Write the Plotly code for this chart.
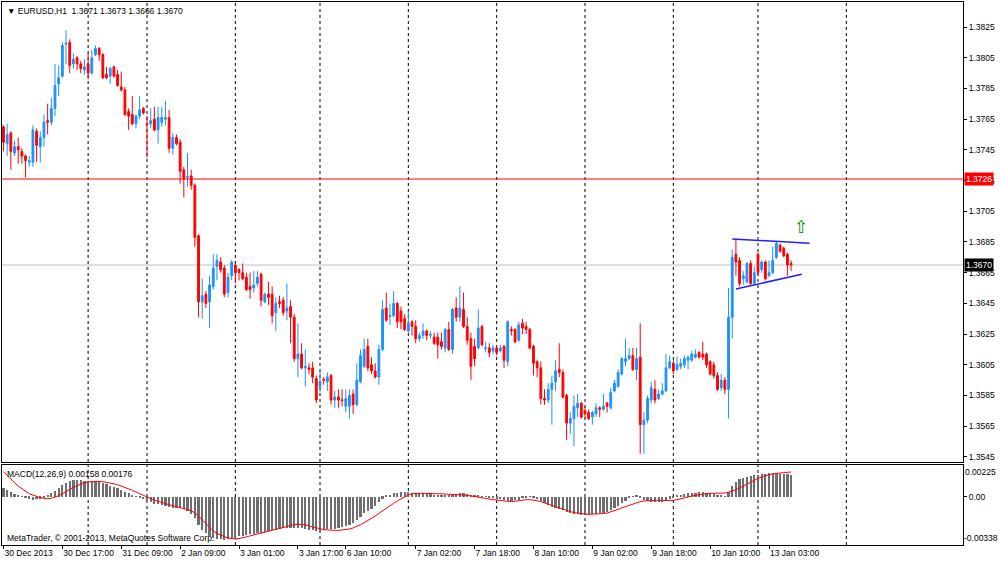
import plotly.graph_objects as go

# EURUSD H1 candles, bar index 0 = 30 Dec 2013 01:00
opens = [
    1.3760, 1.3749, 1.3756, 1.3743, 1.3747, 1.3744, 1.3741, 1.3737, 1.3737, 1.3757,
    1.3747, 1.3753, 1.3764, 1.3763, 1.3772, 1.3788, 1.3793, 1.38139, 1.3815, 1.3801,
    1.3805, 1.3801, 1.3797, 1.3801, 1.3795, 1.3807, 1.3811, 1.3807, 1.3794, 1.3793,
    1.3799, 1.3794, 1.3786, 1.3784, 1.3770, 1.3768, 1.3762, 1.3767, 1.3772, 1.37621,
    1.3762, 1.3765, 1.3758, 1.3763, 1.3765, 1.3766, 1.3746, 1.3753, 1.3750, 1.3732,
    1.37271, 1.3728, 1.3722, 1.3689, 1.3646, 1.3651, 1.3646, 1.3656, 1.3669, 1.3672,
    1.3668, 1.3652, 1.3663, 1.3670, 1.3667, 1.3665, 1.3662, 1.3656, 1.3655, 1.3658,
    1.3664, 1.3646, 1.3651, 1.3651, 1.3639, 1.3646, 1.3647, 1.3640, 1.3643, 1.3636,
    1.3609, 1.3612, 1.3603, 1.3603, 1.3603, 1.3596, 1.3591, 1.35955, 1.3594, 1.3598,
    1.3582, 1.3584, 1.35822, 1.3578, 1.3578, 1.3586, 1.3579, 1.3594, 1.3604, 1.3617,
    1.3605, 1.3601, 1.3597, 1.3615, 1.3642, 1.36365, 1.3637, 1.3645, 1.3640, 1.3635,
    1.3627, 1.3633, 1.3630, 1.3622, 1.3624, 1.3627, 1.36243, 1.3623, 1.3623, 1.3620,
    1.3616, 1.3628, 1.3615, 1.3642, 1.3636, 1.3641, 1.3630, 1.3622, 1.3617, 1.3616,
    1.3630, 1.36155, 1.3616, 1.3614, 1.3616, 1.3614, 1.3617, 1.3607, 1.3628, 1.3628,
    1.3621, 1.3632, 1.3630, 1.3628, 1.3617, 1.3607, 1.3603, 1.3583, 1.3582, 1.3589,
    1.3594, 1.3602, 1.3600, 1.3585, 1.3567, 1.3570, 1.3577, 1.3580, 1.3575, 1.3574,
    1.3571, 1.3573, 1.3577, 1.3576, 1.3580, 1.3577, 1.3588, 1.3591, 1.3599, 1.3607,
    1.3609, 1.3611, 1.3602, 1.3610, 1.3566, 1.3569, 1.3582, 1.3589, 1.3583, 1.3586,
    1.3588, 1.3603, 1.3606, 1.3602, 1.3604, 1.3605, 1.3608, 1.3608, 1.3610, 1.3613,
    1.3612, 1.3612, 1.3607, 1.3605, 1.3598, 1.3590, 1.3595, 1.3589, 1.3636, 1.3677,
    1.3673, 1.3661, 1.3659, 1.3671, 1.3658, 1.3677, 1.3667, 1.3672, 1.3663, 1.3665,
    1.3675, 1.3683, 1.3681, 1.3677, 1.3671,
]
highs = [
    1.3761, 1.3762, 1.3757, 1.3751, 1.3753, 1.3746, 1.3742, 1.3741, 1.3761, 1.3759,
    1.3757, 1.3768, 1.3775, 1.3779, 1.3801, 1.3800, 1.3815, 1.3823, 1.3817, 1.3808,
    1.3806, 1.3803, 1.3804, 1.3808, 1.3810, 1.3813, 1.3812, 1.3808, 1.3799, 1.3799,
    1.3800, 1.3797, 1.3796, 1.3786, 1.3772, 1.3780, 1.3768, 1.3780, 1.3773, 1.3767,
    1.3772, 1.3773, 1.3773, 1.3773, 1.3777, 1.3771, 1.3756, 1.3755, 1.3752, 1.3734,
    1.3743, 1.3732, 1.3723, 1.3690, 1.3661, 1.3653, 1.3663, 1.3677, 1.3677, 1.3675,
    1.3670, 1.3665, 1.3673, 1.3671, 1.3668, 1.3671, 1.3665, 1.3665, 1.3666, 1.3666,
    1.3665, 1.3652, 1.3659, 1.3656, 1.3649, 1.3650, 1.3649, 1.3658, 1.3647, 1.3638,
    1.3632, 1.3619, 1.3615, 1.3606, 1.3607, 1.3598, 1.3601, 1.3597, 1.3600, 1.3599,
    1.3588, 1.3589, 1.3589, 1.3589, 1.3589, 1.3589, 1.3606, 1.3615, 1.3622, 1.3622,
    1.3610, 1.3606, 1.3618, 1.3647, 1.3652, 1.3645, 1.3653, 1.3646, 1.3643, 1.3638,
    1.3640, 1.3634, 1.3634, 1.3626, 1.3632, 1.3628, 1.3627, 1.3626, 1.3626, 1.3626,
    1.3629, 1.3633, 1.3642, 1.3649, 1.3656, 1.3652, 1.3636, 1.3626, 1.3622, 1.3641,
    1.3631, 1.3620, 1.3619, 1.3618, 1.3617, 1.3618, 1.3618, 1.3634, 1.3630, 1.3629,
    1.3633, 1.3635, 1.3633, 1.3629, 1.3618, 1.3608, 1.3607, 1.3589, 1.3593, 1.3598,
    1.3608, 1.3619, 1.3602, 1.3586, 1.3574, 1.3585, 1.3586, 1.3581, 1.3578, 1.3576,
    1.3575, 1.3580, 1.3578, 1.3586, 1.3581, 1.3590, 1.3595, 1.3602, 1.3610, 1.3622,
    1.3616, 1.3616, 1.3616, 1.3632, 1.3574, 1.3585, 1.3594, 1.3595, 1.3589, 1.3593,
    1.3612, 1.3611, 1.3608, 1.3610, 1.3609, 1.3611, 1.3611, 1.3614, 1.3615, 1.3614,
    1.3620, 1.3613, 1.3608, 1.3607, 1.3600, 1.3599, 1.3597, 1.3655, 1.3680, 1.3687,
    1.3675, 1.3666, 1.3672, 1.3673, 1.3669, 1.3678, 1.3673, 1.3673, 1.3673, 1.3682,
    1.3685, 1.3684, 1.3682, 1.3678, 1.3673,
]
lows = [
    1.3744, 1.3741, 1.3732, 1.3741, 1.3736, 1.3736, 1.3727, 1.3734, 1.3734, 1.3737,
    1.3737, 1.3747, 1.3755, 1.3761, 1.3767, 1.3780, 1.3792, 1.3801, 1.3795, 1.3798,
    1.3797, 1.3795, 1.3794, 1.3791, 1.3794, 1.3806, 1.3803, 1.3791, 1.3791, 1.3788,
    1.3792, 1.3786, 1.3783, 1.3767, 1.3758, 1.3761, 1.3759, 1.3765, 1.3768, 1.3740,
    1.3759, 1.3757, 1.3749, 1.3760, 1.3761, 1.3743, 1.3742, 1.3748, 1.3723, 1.3714,
    1.3721, 1.3719, 1.3682, 1.3636, 1.3635, 1.3642, 1.3629, 1.3654, 1.3660, 1.3665,
    1.3649, 1.3649, 1.3660, 1.3658, 1.3660, 1.3660, 1.3653, 1.3648, 1.3652, 1.3656,
    1.3643, 1.3645, 1.3644, 1.3632, 1.3627, 1.3642, 1.3637, 1.3634, 1.3619, 1.3607,
    1.3597, 1.3602, 1.3591, 1.3599, 1.3593, 1.3580, 1.3587, 1.3592, 1.3588, 1.3579,
    1.3577, 1.3577, 1.3578, 1.3574, 1.3570, 1.3573, 1.3578, 1.3593, 1.3603, 1.3601,
    1.3599, 1.3596, 1.3592, 1.3614, 1.3633, 1.3631, 1.3636, 1.3629, 1.3628, 1.3627,
    1.3626, 1.3624, 1.3619, 1.3620, 1.3622, 1.3621, 1.3622, 1.3618, 1.3609, 1.3615,
    1.3613, 1.3614, 1.3612, 1.3633, 1.3633, 1.3629, 1.3618, 1.3595, 1.3604, 1.3615,
    1.3617, 1.3613, 1.3610, 1.3612, 1.3611, 1.3613, 1.3603, 1.3604, 1.3624, 1.3619,
    1.3620, 1.3625, 1.3625, 1.3615, 1.3598, 1.3597, 1.3579, 1.3579, 1.3580, 1.3566,
    1.3588, 1.3597, 1.3583, 1.3556, 1.3560, 1.3552, 1.3571, 1.3570, 1.3570, 1.3569,
    1.3566, 1.3571, 1.3571, 1.3575, 1.3574, 1.3576, 1.3587, 1.3590, 1.3598, 1.3604,
    1.3608, 1.3601, 1.3595, 1.3547, 1.3547, 1.3567, 1.3580, 1.3580, 1.3582, 1.3585,
    1.3587, 1.3602, 1.3599, 1.3601, 1.3602, 1.3603, 1.3602, 1.3607, 1.3609, 1.3609,
    1.3608, 1.3603, 1.3598, 1.3596, 1.3588, 1.3588, 1.3586, 1.3570, 1.3622, 1.3663,
    1.3656, 1.3657, 1.3658, 1.3657, 1.3657, 1.3663, 1.3665, 1.3660, 1.3662, 1.3664,
    1.3674, 1.3678, 1.3675, 1.3663, 1.3666,
]
closes = [
    1.3750, 1.3755, 1.3744, 1.3747, 1.3745, 1.3741, 1.3738, 1.3738, 1.3758, 1.3748,
    1.3753, 1.3763, 1.3763, 1.3772, 1.3787, 1.3792, 1.3813, 1.38145, 1.3800, 1.3804,
    1.3801, 1.3798, 1.3799, 1.3795, 1.3805, 1.3811, 1.3807, 1.3792, 1.3792, 1.3798,
    1.3793, 1.3787, 1.3784, 1.3768, 1.3767, 1.3762, 1.3767, 1.3771, 1.3769, 1.37615,
    1.3764, 1.3758, 1.3766, 1.3766, 1.3766, 1.3746, 1.3753, 1.3749, 1.3731, 1.3726,
    1.37279, 1.3722, 1.3688, 1.3646, 1.3650, 1.3645, 1.3657, 1.3668, 1.3673, 1.3667,
    1.3651, 1.3662, 1.3672, 1.3665, 1.3665, 1.3661, 1.3654, 1.3654, 1.3657, 1.3662,
    1.3647, 1.3651, 1.3649, 1.3637, 1.3645, 1.3645, 1.3639, 1.3642, 1.3636, 1.3609,
    1.3612, 1.3603, 1.3604, 1.3602, 1.3597, 1.3582, 1.3594, 1.3595, 1.3597, 1.3582,
    1.3584, 1.3582, 1.35818, 1.3583, 1.3585, 1.3579, 1.3595, 1.3611, 1.3615, 1.3603,
    1.3601, 1.3597, 1.3615, 1.3641, 1.3634, 1.3637, 1.3645, 1.3633, 1.3633, 1.3628,
    1.3632, 1.3630, 1.3622, 1.3624, 1.3627, 1.3624, 1.36247, 1.3619, 1.3618, 1.3617,
    1.3628, 1.3615, 1.3641, 1.3636, 1.3642, 1.3630, 1.3621, 1.3604, 1.3609, 1.3629,
    1.3618, 1.3616, 1.3613, 1.3616, 1.3613, 1.3616, 1.3608, 1.3633, 1.3627, 1.3620,
    1.3631, 1.3629, 1.3628, 1.3616, 1.3606, 1.3603, 1.3583, 1.3582, 1.3589, 1.3593,
    1.3601, 1.3600, 1.3584, 1.3567, 1.3570, 1.3578, 1.3580, 1.3571, 1.3573, 1.3570,
    1.3574, 1.3577, 1.3576, 1.3578, 1.3578, 1.3587, 1.3593, 1.3600, 1.3609, 1.3609,
    1.3611, 1.3602, 1.3609, 1.3566, 1.3569, 1.3583, 1.3590, 1.3582, 1.3586, 1.3588,
    1.3603, 1.3607, 1.3601, 1.3605, 1.3606, 1.3609, 1.3610, 1.3612, 1.3612, 1.3610,
    1.3610, 1.3605, 1.3599, 1.3598, 1.3589, 1.3595, 1.3589, 1.3636, 1.3675, 1.3672,
    1.3658, 1.3663, 1.3671, 1.3658, 1.3665, 1.3665, 1.3672, 1.3661, 1.3665, 1.3673,
    1.3684, 1.3679, 1.3676, 1.3670, 1.3670,
]

# MACD(12,26,9): main line (histogram) and signal line
macd_main = [
    0.00061, 0.00049, 0.00035, 0.00023, 0.00016, 0.00005, -0.00005, -0.00012, -0.00019, -0.00016,
    -0.00012, -0.00002, 0.00009, 0.00030, 0.00042, 0.00061, 0.00082, 0.00101, 0.00113, 0.00120,
    0.00120, 0.00120, 0.00115, 0.00113, 0.00113, 0.00115, 0.00108, 0.00101, 0.00089, 0.00077,
    0.00070, 0.00061, 0.00049, 0.00038, 0.00026, 0.00016, 0.00005, -0.00007, -0.00016, -0.00028,
    -0.00038, -0.00047, -0.00052, -0.00059, -0.00066, -0.00070, -0.00075, -0.00080, -0.00080, -0.00087,
    -0.00096, -0.00120, -0.00150, -0.00197, -0.00232, -0.00256, -0.00274, -0.00286, -0.00293, -0.00298,
    -0.00303, -0.00298, -0.00293, -0.00289, -0.00277, -0.00272, -0.00267, -0.00263, -0.00260, -0.00256,
    -0.00251, -0.00244, -0.00239, -0.00235, -0.00230, -0.00225, -0.00221, -0.00218, -0.00216, -0.00216,
    -0.00218, -0.00221, -0.00225, -0.00230, -0.00235, -0.00239, -0.00237, -0.00232, -0.00228, -0.00225,
    -0.00223, -0.00218, -0.00213, -0.00206, -0.00195, -0.00181, -0.00162, -0.00138, -0.00115, -0.00099,
    -0.00082, -0.00061, -0.00038, -0.00012, 0.00007, 0.00016, 0.00026, 0.00030, 0.00033, 0.00033,
    0.00033, 0.00030, 0.00030, 0.00028, 0.00026, 0.00023, 0.00019, 0.00016, 0.00014, 0.00012,
    0.00012, 0.00009, 0.00016, 0.00021, 0.00026, 0.00026, 0.00023, 0.00016, 0.00007, 0.00009,
    0.00005, 0.00001, -0.00002, -0.00005, -0.00012, -0.00016, -0.00023, -0.00028, -0.00028, -0.00023,
    -0.00019, -0.00007, -0.00002, 0.00001, -0.00005, -0.00016, -0.00030, -0.00045, -0.00056, -0.00068,
    -0.00080, -0.00087, -0.00091, -0.00103, -0.00115, -0.00120, -0.00122, -0.00127, -0.00127, -0.00124,
    -0.00122, -0.00120, -0.00115, -0.00110, -0.00103, -0.00091, -0.00080, -0.00063, -0.00045, -0.00026,
    -0.00007, 0.00002, 0.00012, -0.00005, -0.00021, -0.00030, -0.00033, -0.00035, -0.00035, -0.00033,
    -0.00021, -0.00012, -0.00002, 0.00007, 0.00016, 0.00021, 0.00026, 0.00028, 0.00030, 0.00033,
    0.00033, 0.00030, 0.00026, 0.00019, 0.00012, 0.00007, 0.00002, 0.00038, 0.00077, 0.00106,
    0.00124, 0.00134, 0.00143, 0.00148, 0.00152, 0.00157, 0.00162, 0.00164, 0.00167, 0.00167,
    0.00167, 0.00164, 0.00162, 0.00160, 0.00158,
]
macd_signal = [
    0.00178, 0.00150, 0.00127, 0.00101, 0.00077, 0.00056, 0.00040, 0.00023, 0.00012, 0.00002,
    -0.00005, -0.00009, -0.00012, -0.00009, -0.00002, 0.00009, 0.00023, 0.00040, 0.00054, 0.00068,
    0.00080, 0.00091, 0.00099, 0.00106, 0.00108, 0.00110, 0.00110, 0.00108, 0.00103, 0.00099,
    0.00094, 0.00087, 0.00077, 0.00068, 0.00056, 0.00047, 0.00035, 0.00023, 0.00012, 0.00000,
    -0.00012, -0.00023, -0.00030, -0.00040, -0.00047, -0.00054, -0.00061, -0.00066, -0.00073, -0.00080,
    -0.00087, -0.00096, -0.00113, -0.00134, -0.00162, -0.00190, -0.00218, -0.00239, -0.00256, -0.00270,
    -0.00279, -0.00289, -0.00293, -0.00296, -0.00293, -0.00289, -0.00281, -0.00274, -0.00267, -0.00260,
    -0.00253, -0.00246, -0.00239, -0.00232, -0.00228, -0.00221, -0.00213, -0.00206, -0.00199, -0.00195,
    -0.00192, -0.00192, -0.00197, -0.00204, -0.00211, -0.00218, -0.00225, -0.00230, -0.00232, -0.00235,
    -0.00235, -0.00235, -0.00232, -0.00230, -0.00225, -0.00218, -0.00209, -0.00195, -0.00181, -0.00167,
    -0.00152, -0.00134, -0.00115, -0.00096, -0.00077, -0.00061, -0.00045, -0.00028, -0.00012, 0.00002,
    0.00014, 0.00023, 0.00026, 0.00026, 0.00026, 0.00026, 0.00026, 0.00023, 0.00023, 0.00021,
    0.00021, 0.00019, 0.00019, 0.00016, 0.00016, 0.00014, 0.00012, 0.00007, 0.00002, -0.00002,
    -0.00007, -0.00012, -0.00016, -0.00019, -0.00021, -0.00026, -0.00028, -0.00030, -0.00033, -0.00030,
    -0.00026, -0.00021, -0.00019, -0.00019, -0.00021, -0.00026, -0.00033, -0.00042, -0.00052, -0.00061,
    -0.00070, -0.00080, -0.00087, -0.00096, -0.00103, -0.00110, -0.00115, -0.00117, -0.00120, -0.00122,
    -0.00122, -0.00122, -0.00120, -0.00117, -0.00113, -0.00106, -0.00096, -0.00087, -0.00077, -0.00068,
    -0.00059, -0.00049, -0.00040, -0.00033, -0.00028, -0.00026, -0.00023, -0.00023, -0.00023, -0.00026,
    -0.00026, -0.00026, -0.00023, -0.00019, -0.00014, -0.00007, 0.00000, 0.00007, 0.00012, 0.00016,
    0.00021, 0.00023, 0.00026, 0.00026, 0.00026, 0.00026, 0.00028, 0.00033, 0.00040, 0.00052,
    0.00063, 0.00077, 0.00091, 0.00106, 0.00120, 0.00131, 0.00141, 0.00150, 0.00157, 0.00162,
    0.00167, 0.00169, 0.00171, 0.00174, 0.00176,
]
bars = list(range(len(closes)))

# time axis labels (bar index -> text) and day separators
tick_bars = [0, 16, 32, 48, 64, 80, 93, 112, 128, 144, 160, 176, 192, 208]
tick_labels = ["30 Dec 2013", "30 Dec 17:00", "31 Dec 09:00", "2 Jan 09:00", "3 Jan 01:00",
               "3 Jan 17:00", "6 Jan 10:00", "7 Jan 02:00", "7 Jan 18:00", "8 Jan 10:00",
               "9 Jan 02:00", "9 Jan 18:00", "10 Jan 10:00", "13 Jan 03:00"]
day_separators = [23, 39, 63, 86, 110, 134, 158, 182, 205, 229]

price_ticks = [1.3545, 1.3565, 1.3585, 1.3605, 1.3625, 1.3645, 1.3665, 1.3685,
               1.3705, 1.3725, 1.3745, 1.3765, 1.3785, 1.3805, 1.3825]
price_labels = ["1.3545", "1.3565", "1.3585", "1.3605", "1.3625", "1.3645", "1.3665", "1.3685",
                "1.3705", "1.3725", "1.3745", "1.3765", "1.3785", "1.3805", "1.3825"]
macd_max, macd_min = 0.00225, -0.00338
macd_labels = ["0.00225", "0.00", "-0.00338"]

level_line = 1.3726     # horizontal red level
bid_price = 1.3670      # current bid
# triangle (trend lines) drawn by hand on the chart
upper_x = [198.0, 219.0]
upper_y = [1.36870, 1.36842]
lower_x = [199.0, 216.9]
lower_y = [1.36544, 1.36640]
arrow_bar, arrow_price = 216.6, 1.36945

BULL = "#1E90FF"
BEAR = "#FF0000"
FONT = "Liberation Sans"

fig = go.Figure()
fig.add_trace(go.Candlestick(
    x=bars, open=opens, high=highs, low=lows, close=closes,
    increasing=dict(line=dict(color=BULL, width=1), fillcolor=BULL),
    decreasing=dict(line=dict(color=BEAR, width=1), fillcolor=BEAR),
    whiskerwidth=0, showlegend=False, hoverinfo="skip", xaxis="x", yaxis="y"))

fig.add_trace(go.Scatter(x=upper_x, y=upper_y, mode="lines", line=dict(color="#2020FF", width=1.5),
                         showlegend=False, hoverinfo="skip", xaxis="x", yaxis="y"))
fig.add_trace(go.Scatter(x=lower_x, y=lower_y, mode="lines", line=dict(color="#2020FF", width=1.5),
                         showlegend=False, hoverinfo="skip", xaxis="x", yaxis="y"))

fig.add_trace(go.Bar(x=bars, y=macd_main, width=0.6, marker=dict(color="#6e6e6e", line=dict(width=0)),
                     showlegend=False, hoverinfo="skip", xaxis="x2", yaxis="y2"))
fig.add_trace(go.Scatter(x=bars, y=macd_signal, mode="lines", line=dict(color="#FF0000", width=1),
                         showlegend=False, hoverinfo="skip", xaxis="x2", yaxis="y2"))

shapes = []
for s in day_separators:
    for yr in ("y domain", "y2 domain"):
        shapes.append(dict(type="line", xref="x", yref=yr, x0=s, x1=s, y0=0, y1=1,
                           line=dict(color="black", width=1, dash="3px,3px"), layer="below"))
shapes.append(dict(type="line", xref="x domain", yref="y", x0=0, x1=1, y0=level_line, y1=level_line,
                   line=dict(color="#FF0000", width=1), layer="above"))
shapes.append(dict(type="line", xref="x domain", yref="y", x0=0, x1=1, y0=bid_price, y1=bid_price,
                   line=dict(color="#C0C0C0", width=1), layer="below"))

small = dict(family=FONT, size=8.5, color="black")
annotations = [
    dict(xref="paper", yref="paper", x=0, y=1, xanchor="left", yanchor="top", xshift=3, yshift=-2,
         text="▼ EURUSD,H1\u00a0\u00a01.3671 1.3673 1.3666 1.3670", showarrow=False, font=small),
    dict(xref="paper", yref="y2 domain", x=0, y=1, xanchor="left", yanchor="top", xshift=3, yshift=-2,
         text="MACD(12,26,9) 0.00158 0.00176", showarrow=False, font=small),
    dict(xref="paper", yref="y2 domain", x=0, y=0, xanchor="left", yanchor="bottom", xshift=3, yshift=0,
         text="MetaTrader, © 2001-2013, MetaQuotes Software Corp.", showarrow=False, font=small),
    # MACD window max/min labels sit just inside the window edges
    dict(xref="paper", yref="y2 domain", x=1, y=1, xanchor="left", yanchor="top", xshift=0,
         text=macd_labels[0], showarrow=False, font=small),
    dict(xref="paper", yref="y2 domain", x=1, y=0, xanchor="left", yanchor="bottom", xshift=-1,
         text=macd_labels[2], showarrow=False, font=small),
    dict(xref="paper", yref="y", x=1, y=level_line, xanchor="left", yanchor="middle", xshift=1,
         text="1.3726", showarrow=False, bgcolor="#FF0000", borderpad=1,
         font=dict(family=FONT, size=8.5, color="white")),
    dict(xref="paper", yref="y", x=1, y=bid_price, xanchor="left", yanchor="middle", xshift=1,
         text="1.3670", showarrow=False, bgcolor="black", borderpad=1,
         font=dict(family=FONT, size=8.5, color="white")),
    dict(xref="x", yref="y", x=arrow_bar, y=arrow_price, text="⇧", showarrow=False,
         font=dict(family="DejaVu Sans", size=17, color="#008000")),
]

axis_common = dict(showline=True, mirror=True, linecolor="black", linewidth=1, automargin=False,
                   showgrid=False, zeroline=False, tickfont=small, tickcolor="black")

fig.update_layout(
    width=1000, height=562,
    margin=dict(l=2, r=37, t=2, b=17, autoexpand=False),
    paper_bgcolor="white", plot_bgcolor="white",
    font=small,
    bargap=0,
    shapes=shapes, annotations=annotations,
    xaxis=dict(domain=[0, 1], anchor="y", range=[-0.4, 260.7], showticklabels=False, ticks="",
               rangeslider=dict(visible=False), **axis_common),
    yaxis=dict(domain=[0.1529, 1], anchor="x", side="right", range=[1.35417, 1.38413],
               tickvals=price_ticks, ticktext=price_labels, ticklabeloverflow="allow",
               ticks="outside", ticklen=3, **axis_common),
    xaxis2=dict(domain=[0, 1], anchor="y2", matches="x", range=[-0.4, 260.7],
                tickvals=tick_bars, ticktext=tick_labels, ticks="outside", ticklen=3, tickangle=0,
                ticklabelposition="outside right", ticklabeloverflow="allow", **axis_common),
    yaxis2=dict(domain=[0, 0.1473], anchor="x2", side="right", range=[macd_min, macd_max],
                tickvals=[0.0], ticktext=[macd_labels[1]], ticks="outside", ticklen=3,
                ticklabeloverflow="allow", **axis_common),
)

# the page body has a default 8px margin; remove it so the figure fills the window
fig.write_html("out.html", config={"displayModeBar": False},
               post_script="document.body.style.margin='0';")
